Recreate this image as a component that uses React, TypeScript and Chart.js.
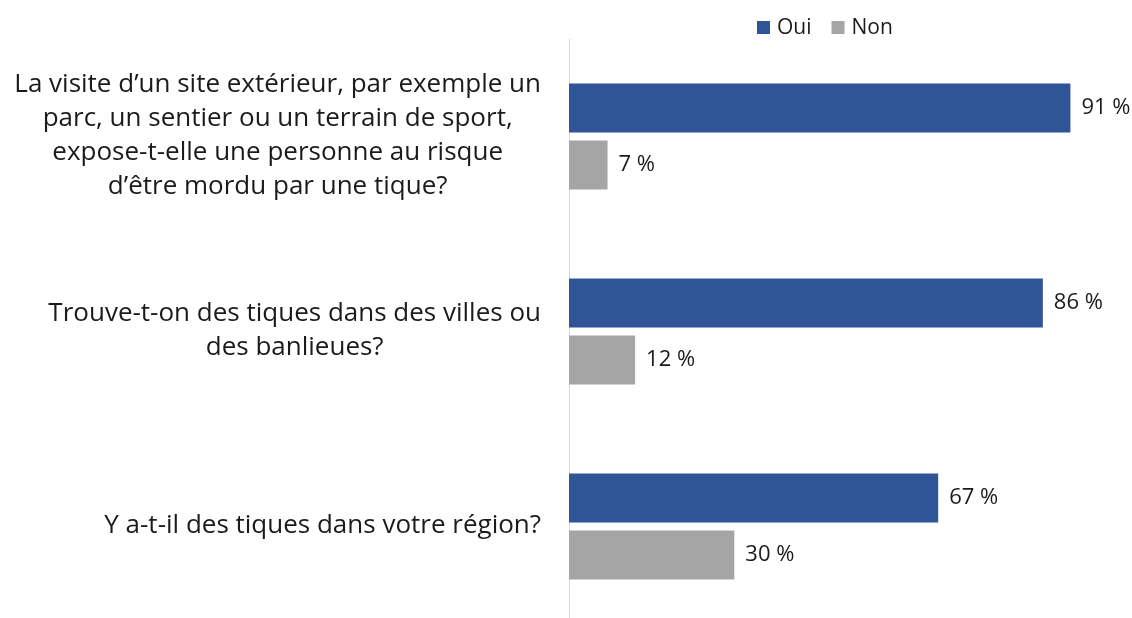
import React, { useEffect, useRef } from "react";
import { Chart, registerables } from "chart.js";

Chart.register(...registerables);

const categories: string[][] = [
  [
    "La visite d’un site extérieur, par exemple un",
    "parc, un sentier ou un terrain de sport,",
    "expose-t-elle une personne au risque",
    "d’être mordu par une tique?",
  ],
  ["Trouve-t-on des tiques dans des villes ou", "des banlieues?"],
  ["Y a-t-il des tiques dans votre région?"],
];
const seriesNames = ["Oui", "Non"];
const ouiValues = [91, 86, 67];
const nonValues = [7, 12, 30];
const colors = ["#2F5597", "#A5A5A5"];

const FONT = "'Open Sans', sans-serif";
const TEXT = "#1b1b1b";

const customPlugin = {
  id: "custom",
  afterDraw(chart: any) {
    const ctx = chart.ctx;
    const y = chart.scales.y;
    ctx.save();
    // category labels: block right-aligned, lines centered in block
    ctx.fillStyle = TEXT;
    ctx.font = `26px ${FONT}`;
    ctx.textBaseline = "middle";
    ctx.textAlign = "center";
    const lh = 34;
    categories.forEach((lines, i) => {
      const cy = y.getPixelForValue(i);
      const maxW = Math.max(...lines.map((l) => ctx.measureText(l).width));
      const right = chart.chartArea.left - 28;
      const cx = right - maxW / 2;
      lines.forEach((l, k) => {
        ctx.fillText(l, cx, cy - ((lines.length - 1) * lh) / 2 + k * lh - 1);
      });
    });
    // data labels
    ctx.font = `22px ${FONT}`;
    ctx.textAlign = "left";
    chart.data.datasets.forEach((ds: any, di: number) => {
      const meta = chart.getDatasetMeta(di);
      meta.data.forEach((bar: any, i: number) => {
        ctx.fillText(`${ds.data[i]} %`, bar.x + 11, bar.y);
      });
    });
    // legend
    ctx.font = `21px ${FONT}`;
    let x = 757;
    chart.data.datasets.forEach((ds: any) => {
      ctx.fillStyle = ds.backgroundColor;
      ctx.fillRect(x, 21, 13, 13);
      ctx.fillStyle = TEXT;
      ctx.fillText(ds.label, x + 20, 28);
      x += 20 + ctx.measureText(ds.label).width + 20;
    });
    ctx.restore();
  },
};

export default function App() {
  const ref = useRef<HTMLCanvasElement>(null);
  useEffect(() => {
    if (!ref.current) return;
    const chart = new Chart(ref.current, {
      type: "bar",
      data: {
        labels: categories.map((c) => c.join(" ")),
        datasets: [
          {
            label: seriesNames[0],
            data: ouiValues,
            backgroundColor: colors[0],
            categoryPercentage: 0.585,
            barPercentage: 0.86,
          },
          {
            label: seriesNames[1],
            data: nonValues,
            backgroundColor: colors[1],
            categoryPercentage: 0.585,
            barPercentage: 0.86,
          },
        ],
      },
      options: {
        indexAxis: "y",
        animation: false,
        responsive: false,
        maintainAspectRatio: false,
        layout: { padding: { top: 39, right: 12, bottom: 0, left: 0 } },
        plugins: {
          legend: { display: false },
          tooltip: { enabled: false },
        },
        scales: {
          x: { display: false, min: 0, max: 100 },
          y: {
            ticks: { display: false },
            grid: { display: false },
            border: { display: true, color: "#D9D9D9", width: 1 },
            afterFit: (s: any) => {
              s.width = 569;
            },
          },
        },
      },
      plugins: [customPlugin],
    });
    return () => chart.destroy();
  }, []);
  return (
    <div style={{ position: "fixed", left: 0, top: 0, width: 1132, height: 624, background: "#fff" }}>
      <canvas ref={ref} width={1132} height={624} style={{ display: "block" }} />
    </div>
  );
}
